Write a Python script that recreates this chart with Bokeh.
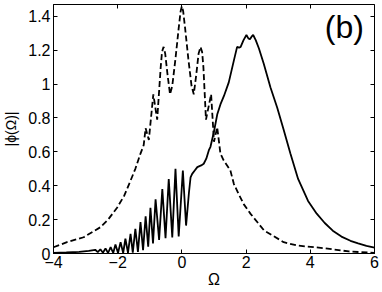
from bokeh.plotting import figure
from bokeh.models import Range1d, LinearAxis, Label, FixedTicker
from bokeh.embed import file_html
from bokeh.resources import INLINE

# ---- data ----
solid_x = [-4.0, -3.6, -3.2, -2.9, -2.7, -2.62, -2.54, -2.46, -2.38, -2.30, -2.22, -2.14,
           -2.07, -1.99, -1.91, -1.83, -1.76, -1.68, -1.60, -1.53, -1.45, -1.37, -1.29,
           -1.21, -1.13, -1.05, -0.98, -0.90, -0.82, -0.71, -0.61, -0.51, -0.41, -0.30,
           -0.20, -0.10, 0.03, 0.13, 0.22, 0.27, 0.32, 0.40, 0.48, 0.60, 0.68, 0.76, 0.84,
           0.89, 1.00, 1.10, 1.20, 1.31, 1.46, 1.62, 1.72, 1.78, 1.83, 1.92, 2.01, 2.07,
           2.12, 2.17, 2.22, 2.30, 2.40, 2.55, 2.76, 2.97, 3.17, 3.38, 3.62, 3.93, 4.20,
           4.45, 4.70, 4.97, 5.25, 5.49, 5.75, 6.0]
solid_y = [0.003, 0.006, 0.010, 0.015, 0.022, 0.008, 0.025, 0.004, 0.030, 0.003, 0.037, 0.003,
           0.053, 0.003, 0.067, 0.003, 0.087, 0.004, 0.116, 0.005, 0.146, 0.010, 0.185,
           0.020, 0.22, 0.040, 0.27, 0.060, 0.32, 0.080, 0.38, 0.090, 0.44, 0.095,
           0.50, 0.100, 0.49, 0.165, 0.36, 0.45, 0.47, 0.49, 0.51, 0.52, 0.53, 0.56, 0.61,
           0.63, 0.72, 0.82, 0.88, 0.93, 1.01, 1.14, 1.22, 1.215, 1.22, 1.26, 1.29, 1.27,
           1.265, 1.28, 1.29, 1.26, 1.21, 1.12, 0.98, 0.86, 0.73, 0.59, 0.44, 0.31, 0.235,
           0.18, 0.135, 0.10, 0.075, 0.06, 0.045, 0.035]

dash_x = [-4.0, -3.58, -3.06, -2.54, -2.30, -2.02, -1.80, -1.60, -1.45, -1.29, -1.19, -1.13,
          -1.03, -0.89, -0.77, -0.66, -0.62, -0.57, -0.52, -0.45, -0.37, -0.30, -0.20, -0.10,
          -0.04, 0.0, 0.04, 0.10, 0.20, 0.30, 0.37, 0.45, 0.52, 0.58, 0.63, 0.67, 0.75, 0.91,
          1.00, 1.10, 1.20, 1.30, 1.51, 1.62, 1.77, 1.93, 2.14, 2.56, 3.17, 3.59, 4.45, 5.20, 6.0]
dash_y = [0.037, 0.067, 0.096, 0.155, 0.20, 0.27, 0.34, 0.43, 0.50, 0.59, 0.64, 0.74,
          0.67, 0.94, 0.79, 1.10, 1.19, 1.22, 1.18, 1.06, 0.94, 0.99, 1.15, 1.33,
          1.43, 1.46, 1.43, 1.33, 1.15, 0.99, 0.94, 1.06, 1.18, 1.22, 1.19, 1.10, 0.79, 0.94,
          0.66, 0.745, 0.59, 0.55, 0.49, 0.41, 0.35, 0.29, 0.234, 0.136, 0.067, 0.047, 0.031, 0.012, 0.004]

x_ticks = [-4, -2, 0, 2, 4, 6]
x_tick_labels = ["\u22124", "\u22122", "0", "2", "4", "6"]
y_ticks = [0, 0.2, 0.4, 0.6, 0.8, 1.0, 1.2, 1.4]
y_tick_labels = ["0", "0.2", "0.4", "0.6", "0.8", "1", "1.2", "1.4"]

FONT = "Liberation Sans"

p = figure(width=382, height=292, output_backend="svg", toolbar_location=None,
           x_range=Range1d(-4, 6), y_range=Range1d(0, 1.47),
           min_border_left=53, min_border_right=8, min_border_top=4, min_border_bottom=39)
p.background_fill_color = "white"
p.border_fill_color = "white"
p.outline_line_color = "black"
p.grid.visible = False

p.line(dash_x, dash_y, line_color="black", line_width=1.8, line_dash="6 3")
p.line(solid_x, solid_y, line_color="black", line_width=1.8)

for ax in (p.xaxis[0], p.yaxis[0]):
    ax.major_tick_in = 4
    ax.major_tick_out = 0
    ax.minor_tick_in = 0
    ax.minor_tick_out = 0
    ax.major_label_text_font = FONT
    ax.major_label_text_font_size = "16px"
    ax.major_label_text_color = "black"
    ax.axis_line_color = "black"
    ax.major_tick_line_color = "black"
    ax.axis_label_text_font = FONT
    ax.axis_label_text_font_style = "normal"
    ax.axis_label_text_color = "black"

p.xaxis[0].ticker = FixedTicker(ticks=x_ticks)
p.xaxis[0].major_label_overrides = dict(zip(x_ticks, x_tick_labels))
p.xaxis[0].axis_label = "\u03a9"
p.xaxis[0].axis_label_text_font_size = "16px"
p.xaxis[0].major_label_standoff = 2
p.xaxis[0].axis_label_standoff = 0

p.yaxis[0].ticker = FixedTicker(ticks=y_ticks)
p.yaxis[0].major_label_overrides = dict(zip(y_ticks, y_tick_labels))
p.yaxis[0].axis_label = "|\u03d5(\u03a9)|"
p.yaxis[0].axis_label_text_font_size = "14px"
p.yaxis[0].major_label_standoff = 3
p.yaxis[0].axis_label_standoff = 6

top = LinearAxis(ticker=FixedTicker(ticks=x_ticks), major_tick_in=4, major_tick_out=0,
                 minor_tick_in=0, minor_tick_out=0, major_label_standoff=0,
                 major_label_overrides={t: "" for t in x_ticks}, axis_line_color=None)
right = LinearAxis(ticker=FixedTicker(ticks=y_ticks), major_tick_in=4, major_tick_out=0,
                   minor_tick_in=0, minor_tick_out=0, major_label_standoff=0,
                   major_label_overrides={t: "" for t in y_ticks}, axis_line_color=None)
p.add_layout(top, "above")
p.add_layout(right, "right")

p.add_layout(Label(x=4.45, y=1.34, text="(b)", text_font=FONT, text_font_size="32px",
                   text_align="left", text_baseline="middle", text_color="black"))

open("out.html", "w").write(file_html(p, INLINE))
